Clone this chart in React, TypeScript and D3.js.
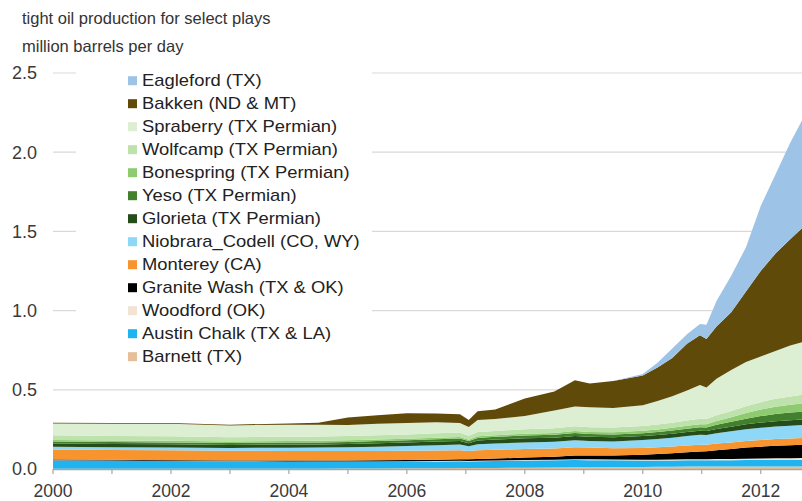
import React from "react";
import * as d3 from "d3";

// decimal years of the sampled points
const dates = [2000, 2001, 2002, 2003, 2004, 2004.5, 2005, 2005.5, 2006, 2006.5, 2006.9, 2007.05, 2007.2, 2007.5, 2008, 2008.5, 2008.85, 2009.1, 2009.5, 2010, 2010.25, 2010.5, 2010.75, 2010.97, 2011.08, 2011.25, 2011.5, 2011.75, 2012, 2012.25, 2012.5, 2012.7];

// million barrels per day, bottom of the stack first
const barnett = [0.002, 0.002, 0.002, 0.002, 0.002, 0.002, 0.003, 0.003, 0.004, 0.005, 0.006, 0.006, 0.006, 0.007, 0.008, 0.01, 0.011, 0.011, 0.012, 0.013, 0.014, 0.014, 0.015, 0.015, 0.015, 0.015, 0.015, 0.015, 0.016, 0.016, 0.016, 0.016];
const austinChalk = [0.052, 0.05, 0.048, 0.046, 0.045, 0.044, 0.043, 0.043, 0.043, 0.043, 0.043, 0.042, 0.043, 0.044, 0.045, 0.045, 0.046, 0.045, 0.043, 0.04, 0.04, 0.04, 0.04, 0.04, 0.04, 0.041, 0.041, 0.042, 0.042, 0.043, 0.043, 0.043];
const woodford = [0.001, 0.001, 0.001, 0.001, 0.001, 0.001, 0.001, 0.002, 0.002, 0.002, 0.003, 0.003, 0.003, 0.003, 0.004, 0.004, 0.005, 0.005, 0.005, 0.005, 0.005, 0.006, 0.006, 0.006, 0.006, 0.007, 0.007, 0.008, 0.008, 0.009, 0.009, 0.01];
const graniteWash = [0.005, 0.005, 0.005, 0.005, 0.006, 0.006, 0.006, 0.007, 0.008, 0.009, 0.01, 0.01, 0.011, 0.012, 0.015, 0.018, 0.024, 0.024, 0.026, 0.032, 0.036, 0.04, 0.045, 0.05, 0.051, 0.056, 0.063, 0.07, 0.075, 0.079, 0.082, 0.084];
const monterey = [0.063, 0.062, 0.062, 0.061, 0.06, 0.06, 0.06, 0.059, 0.058, 0.058, 0.057, 0.052, 0.056, 0.056, 0.054, 0.053, 0.052, 0.05, 0.045, 0.043, 0.042, 0.042, 0.042, 0.042, 0.041, 0.042, 0.042, 0.042, 0.042, 0.042, 0.042, 0.042];
const niobrara = [0.018, 0.018, 0.018, 0.018, 0.02, 0.022, 0.025, 0.027, 0.03, 0.033, 0.035, 0.03, 0.037, 0.039, 0.042, 0.042, 0.043, 0.042, 0.043, 0.05, 0.053, 0.056, 0.06, 0.063, 0.062, 0.065, 0.07, 0.074, 0.077, 0.079, 0.081, 0.082];
const glorieta = [0.02, 0.02, 0.02, 0.019, 0.02, 0.02, 0.02, 0.021, 0.022, 0.023, 0.023, 0.02, 0.024, 0.025, 0.026, 0.026, 0.027, 0.026, 0.026, 0.025, 0.025, 0.025, 0.025, 0.025, 0.025, 0.027, 0.029, 0.031, 0.033, 0.034, 0.035, 0.036];
const yeso = [0.012, 0.012, 0.012, 0.012, 0.013, 0.013, 0.013, 0.014, 0.014, 0.015, 0.015, 0.013, 0.016, 0.017, 0.018, 0.018, 0.019, 0.018, 0.018, 0.018, 0.019, 0.02, 0.021, 0.022, 0.022, 0.026, 0.031, 0.036, 0.041, 0.045, 0.048, 0.049];
const bonespring = [0.01, 0.01, 0.01, 0.01, 0.01, 0.01, 0.01, 0.01, 0.01, 0.01, 0.01, 0.009, 0.01, 0.01, 0.011, 0.012, 0.013, 0.013, 0.014, 0.015, 0.016, 0.017, 0.019, 0.02, 0.02, 0.024, 0.029, 0.035, 0.041, 0.046, 0.05, 0.052];
const wolfcamp = [0.03, 0.029, 0.028, 0.027, 0.027, 0.027, 0.027, 0.027, 0.027, 0.027, 0.027, 0.025, 0.027, 0.027, 0.028, 0.029, 0.03, 0.03, 0.03, 0.03, 0.031, 0.032, 0.033, 0.034, 0.034, 0.036, 0.039, 0.043, 0.047, 0.05, 0.052, 0.054];
const spraberry = [0.074, 0.076, 0.079, 0.074, 0.076, 0.075, 0.07, 0.072, 0.072, 0.07, 0.061, 0.055, 0.077, 0.075, 0.084, 0.113, 0.125, 0.126, 0.123, 0.131, 0.149, 0.168, 0.189, 0.213, 0.199, 0.231, 0.259, 0.279, 0.288, 0.302, 0.322, 0.332];
const bakken = [0.005, 0.005, 0.005, 0.005, 0.008, 0.012, 0.047, 0.055, 0.062, 0.055, 0.055, 0.045, 0.055, 0.06, 0.11, 0.12, 0.165, 0.15, 0.17, 0.188, 0.21, 0.24, 0.295, 0.315, 0.305, 0.33, 0.365, 0.445, 0.54, 0.615, 0.67, 0.72];
const eagleford = [0, 0, 0, 0, 0, 0, 0, 0, 0, 0, 0, 0, 0, 0, 0, 0, 0, 0, 0, 0.01, 0.03, 0.06, 0.06, 0.07, 0.09, 0.16, 0.23, 0.28, 0.41, 0.5, 0.61, 0.68];

const plays = [
  { key: "Barnett (TX)", values: barnett, color: "#e6be98" },
  { key: "Austin Chalk (TX & LA)", values: austinChalk, color: "#1fb3f0" },
  { key: "Woodford (OK)", values: woodford, color: "#f2e3d4" },
  { key: "Granite Wash (TX & OK)", values: graniteWash, color: "#000000" },
  { key: "Monterey (CA)", values: monterey, color: "#f7942d" },
  { key: "Niobrara_Codell (CO, WY)", values: niobrara, color: "#8fd7f7" },
  { key: "Glorieta (TX Permian)", values: glorieta, color: "#254d19" },
  { key: "Yeso (TX Permian)", values: yeso, color: "#43802e" },
  { key: "Bonespring (TX Permian)", values: bonespring, color: "#8ecb70" },
  { key: "Wolfcamp (TX Permian)", values: wolfcamp, color: "#bde2ab" },
  { key: "Spraberry (TX Permian)", values: spraberry, color: "#ddefd3" },
  { key: "Bakken (ND & MT)", values: bakken, color: "#604a09" },
  { key: "Eagleford (TX)", values: eagleford, color: "#9dc3e6" },
];

const yTicks = [0, 0.5, 1.0, 1.5, 2.0, 2.5];
const yearTicks = [2000, 2001, 2002, 2003, 2004, 2005, 2006, 2007, 2008, 2009, 2010, 2011, 2012];
const yearLabels = [2000, 2002, 2004, 2006, 2008, 2010, 2012];

const titleLines = ["tight oil production for select plays", "million barrels per day"];

const W = 802;
const H = 501;
const font = "'Liberation Sans', Arial, sans-serif";

const App = () => {
  const x = d3.scaleLinear().domain([2000, 2012.7]).range([53, 802]);
  const y = d3.scaleLinear().domain([0, 2.5]).range([469, 73]);

  const rows = dates.map((d, i) => {
    const r: any = { date: d };
    plays.forEach((p) => (r[p.key] = p.values[i]));
    return r;
  });

  const stacked = d3.stack().keys(plays.map((p) => p.key))(rows);

  const area = d3
    .area<any>()
    .x((d) => x(d.data.date))
    .y0((d) => y(d[0]))
    .y1((d) => y(d[1]));

  const legend = plays.slice().reverse();

  return (
    <svg
      width={W}
      height={H}
      style={{ position: "absolute", left: 0, top: 0, background: "#fff" }}
      fontFamily={font}
    >
      {titleLines.map((t, i) => (
        <text key={t} x={22} y={24 + i * 28} fontSize={16.5} fill="#333">
          {t}
        </text>
      ))}

      {/* gridlines */}
      {yTicks.slice(1).map((v) => (
        <line key={v} x1={53} x2={802} y1={y(v)} y2={y(v)} stroke="#d9d9d9" strokeWidth={1.2} />
      ))}

      {/* y labels */}
      {yTicks.map((v) => (
        <text key={v} x={37} y={y(v)} dy="0.35em" textAnchor="end" fontSize={18} fill="#3a3a3a">
          {d3.format(".1f")(v)}
        </text>
      ))}

      {/* stacked areas */}
      {stacked.map((s, i) => (
        <path key={s.key} d={area(s as any) || ""} fill={plays[i].color} />
      ))}

      {/* x axis */}
      <line x1={53} x2={802} y1={469.5} y2={469.5} stroke="#a6a6a6" strokeWidth={1.5} />
      {yearTicks.map((t) => (
        <line key={t} x1={x(t)} x2={x(t)} y1={469} y2={474} stroke="#a6a6a6" strokeWidth={1.2} />
      ))}
      {yearLabels.map((t) => (
        <text key={t} x={x(t)} y={497} textAnchor="middle" fontSize={17.5} fill="#3a3a3a">
          {t}
        </text>
      ))}

      {/* legend */}
      <rect x={76} y={62} width={296} height={314} fill="#fff" />
      {legend.map((p, i) => (
        <g key={p.key} transform={`translate(128,${80.7 + i * 23})`}>
          <rect x={0} y={-4.5} width={9} height={9} fill={p.color} />
          <text
            transform="translate(14,0) scale(1.15,1)"
            dy="0.36em"
            fontSize={16}
            fill="#222"
          >
            {p.key}
          </text>
        </g>
      ))}
    </svg>
  );
};

export default App;
